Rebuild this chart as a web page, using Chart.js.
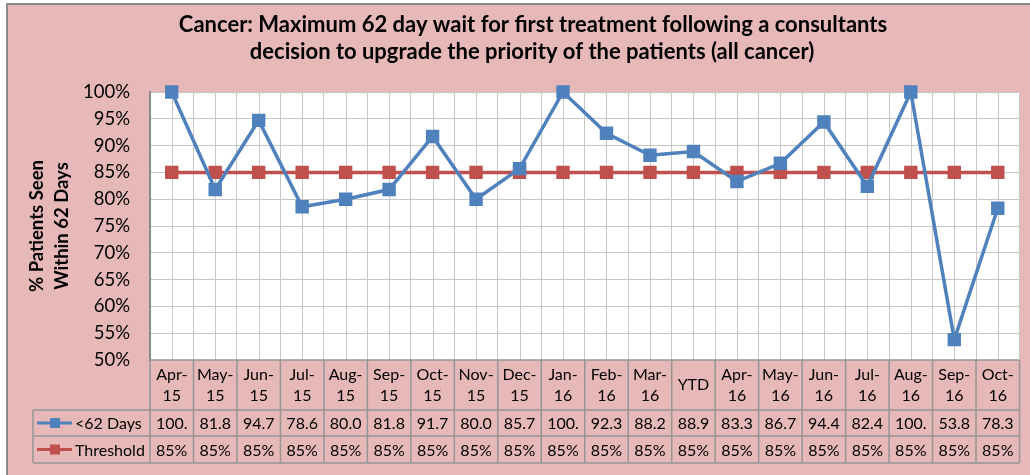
<!DOCTYPE html>
<html>
<head>
<meta charset="utf-8">
<script src="https://cdn.jsdelivr.net/npm/chart.js@4.4.1/dist/chart.umd.min.js"></script>
<style>
  html, body { margin: 0; padding: 0; background: #fff; }
  #wrap { width: 1030px; height: 475px; }
</style>
</head>
<body>
<div id="wrap"><canvas id="waitChart" width="1030" height="475"></canvas></div>
<script>
// chart data
const monthLabels = [
  ['Apr-', '15'], ['May-', '15'], ['Jun-', '15'], ['Jul-', '15'], ['Aug-', '15'],
  ['Sep-', '15'], ['Oct-', '15'], ['Nov-', '15'], ['Dec-', '15'], ['Jan-', '16'],
  ['Feb-', '16'], ['Mar-', '16'], ['YTD'], ['Apr-', '16'], ['May-', '16'],
  ['Jun-', '16'], ['Jul-', '16'], ['Aug-', '16'], ['Sep-', '16'], ['Oct-', '16']
];
const seenWithin62 = [100, 81.8, 94.7, 78.6, 80.0, 81.8, 91.7, 80.0, 85.7, 100,
                      92.3, 88.2, 88.9, 83.3, 86.7, 94.4, 82.4, 100, 53.8, 78.3];
const threshold = [85, 85, 85, 85, 85, 85, 85, 85, 85, 85,
                   85, 85, 85, 85, 85, 85, 85, 85, 85, 85];
const yTicks = [50, 55, 60, 65, 70, 75, 80, 85, 90, 95, 100];

const titleLines = ['Cancer: Maximum 62 day wait for first treatment following a consultants',
                    'decision to upgrade the priority of the patients (all cancer)'];
const yTitleLines = ['% Patients Seen', 'Within 62 Days'];

const PINK = '#E6B9B8';
const BLUE = '#4F81BD';
const RED = '#C0504D';
const GRID = '#C6C6C6';
const TABLE_LINE = '#959595';
const FONT = 'Lato, Carlito, Calibri, "Open Sans", sans-serif';

// Excel-style cell text: one decimal, cut to 4 chars ("100.0" -> "100.")
function cellText(v) {
  return v.toFixed(1).slice(0, 4);
}

// background, frame, titles, minor gridlines and the data table underneath
const excelLook = {
  id: 'excelLook',
  beforeDraw(chart) {
    const ctx = chart.ctx;
    const a = chart.chartArea;
    ctx.save();
    ctx.fillStyle = '#fff';
    ctx.fillRect(0, 0, chart.width, chart.height);
    ctx.fillStyle = PINK;
    ctx.fillRect(7, 4, chart.width - 7, chart.height - 4);
    ctx.strokeStyle = '#8A8A8A';
    ctx.lineWidth = 2;
    ctx.beginPath();
    ctx.moveTo(7, chart.height);
    ctx.lineTo(7, 4);
    ctx.lineTo(chart.width, 4);
    ctx.stroke();
    ctx.fillStyle = '#fff';
    ctx.fillRect(a.left, a.top, a.right - a.left, a.bottom - a.top);
    ctx.restore();
  },
  beforeDatasetsDraw(chart) {
    // gridlines through the middle of each category
    const ctx = chart.ctx;
    const x = chart.scales.x;
    const a = chart.chartArea;
    ctx.save();
    ctx.strokeStyle = GRID;
    ctx.lineWidth = 1;
    monthLabels.forEach((_, i) => {
      const px = Math.round(x.getPixelForValue(i)) + 0.5;
      ctx.beginPath();
      ctx.moveTo(px, a.top);
      ctx.lineTo(px, a.bottom);
      ctx.stroke();
    });
    ctx.restore();
  },
  afterDraw(chart) {
    const ctx = chart.ctx;
    const x = chart.scales.x;
    const a = chart.chartArea;
    const half = (x.getPixelForValue(1) - x.getPixelForValue(0)) / 2;
    const headTop = a.bottom, headBottom = 410, row1 = 436, row2 = 463;
    const legLeft = 33;

    ctx.save();
    // titles
    ctx.fillStyle = '#000';
    ctx.textAlign = 'center';
    ctx.textBaseline = 'middle';
    ctx.font = 'bold 22px ' + FONT;
    ctx.fillText(titleLines[0], 533, 25);
    ctx.fillText(titleLines[1], 532, 52);

    ctx.save();
    ctx.translate(0, 226);
    ctx.rotate(-Math.PI / 2);
    ctx.font = 'bold 18.5px ' + FONT;
    ctx.fillText(yTitleLines[0], 0, 37);
    ctx.fillText(yTitleLines[1], 0, 62);
    ctx.restore();

    // table grid
    ctx.strokeStyle = TABLE_LINE;
    ctx.lineWidth = 1.5;
    ctx.beginPath();
    ctx.moveTo(a.left, headTop); ctx.lineTo(a.right, headTop);
    [headBottom, row1, row2].forEach(y => {
      ctx.moveTo(legLeft, y); ctx.lineTo(a.right, y);
    });
    ctx.moveTo(legLeft, headBottom); ctx.lineTo(legLeft, row2);
    ctx.moveTo(a.left, headTop); ctx.lineTo(a.left, row2);
    monthLabels.forEach((_, i) => {
      const px = x.getPixelForValue(i) + half;
      ctx.moveTo(px, headTop); ctx.lineTo(px, row2);
    });
    ctx.stroke();

    // table text
    ctx.fillStyle = '#000';
    ctx.font = '16px ' + FONT;
    ctx.textAlign = 'center';
    monthLabels.forEach((lab, i) => {
      const cx = x.getPixelForValue(i);
      if (lab.length === 1) {
        ctx.fillText(lab[0], cx, (headTop + headBottom) / 2);
      } else {
        ctx.fillText(lab[0], cx, 375);
        ctx.fillText(lab[1], cx, 396);
      }
      ctx.fillText(cellText(seenWithin62[i]), cx, (headBottom + row1) / 2 + 1);
      ctx.fillText(threshold[i] + '%', cx, (row1 + row2) / 2 + 1);
    });

    // legend keys in the table
    chart.data.datasets.forEach((ds, k) => {
      const cy = k === 0 ? (headBottom + row1) / 2 : (row1 + row2) / 2;
      ctx.strokeStyle = ds.borderColor;
      ctx.lineWidth = 3;
      ctx.beginPath();
      ctx.moveTo(37, cy); ctx.lineTo(72, cy);
      ctx.stroke();
      ctx.fillStyle = ds.borderColor;
      ctx.fillRect(50, cy - 5, 10, 10);
      ctx.fillStyle = '#000';
      ctx.textAlign = 'left';
      ctx.fillText(ds.label, 75, cy + 1);
    });
    ctx.restore();
  }
};

const ctx = document.getElementById('waitChart').getContext('2d');
new Chart(ctx, {
  type: 'line',
  data: {
    labels: monthLabels.map(l => l.join('')),
    datasets: [
      {
        label: '<62 Days',
        data: seenWithin62,
        borderColor: BLUE,
        backgroundColor: BLUE,
        borderWidth: 3.5,
        pointStyle: 'rect',
        pointRadius: 7,
        pointHoverRadius: 7,
        tension: 0,
        clip: false
      },
      {
        label: 'Threshold',
        data: threshold,
        borderColor: RED,
        backgroundColor: RED,
        borderWidth: 3.5,
        pointStyle: 'rect',
        pointRadius: 7,
        pointHoverRadius: 7,
        tension: 0,
        clip: false
      }
    ]
  },
  options: {
    responsive: false,
    animation: false,
    layout: { padding: { left: 0, right: 8, top: 92, bottom: 115 } },
    plugins: {
      legend: { display: false },
      tooltip: { enabled: false },
      title: { display: false }
    },
    scales: {
      x: {
        offset: true,
        grid: { offset: true, color: GRID, drawTicks: false },
        border: { display: false },
        ticks: { display: false },
        afterFit(scale) { scale.height = 0; }
      },
      y: {
        min: 50,
        max: 100,
        afterBuildTicks(scale) { scale.ticks = yTicks.map(v => ({ value: v })); },
        afterFit(scale) { scale.width = 150; },
        grid: { color: GRID, drawTicks: false },
        border: { color: '#8A8A8A', width: 2 },
        ticks: {
          padding: 20,
          color: '#000',
          font: { family: FONT, size: 18.5 },
          callback: v => v + '%'
        }
      }
    }
  },
  plugins: [excelLook]
});
</script>
</body>
</html>
